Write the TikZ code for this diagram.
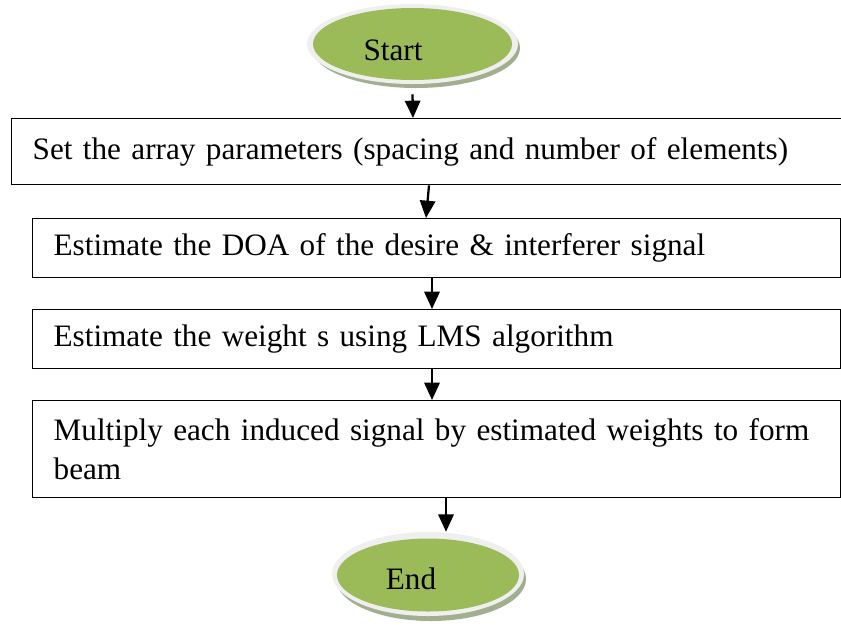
\documentclass[tikz,border=0pt]{standalone}
\usepackage{fontspec}
\setmainfont{Liberation Serif}
\usetikzlibrary{shapes.geometric,arrows.meta}
\definecolor{okgreen}{HTML}{9BBB59}
\definecolor{rimgray}{HTML}{EFEFEF}
\definecolor{shadowg}{HTML}{A2AF8E}
\begin{document}
\begin{tikzpicture}[x=0.75pt,y=-0.75pt,
  box/.style={draw=black, line width=1pt, rectangle, anchor=north west,
    inner xsep=15.75pt, inner ysep=0pt, align=left,
    font=\fontsize{23.4}{29.25}\selectfont},
  arr/.style={line width=1.7pt, -{Triangle[width=11.5pt,length=13pt]}},
  lbl/.style={font=\fontsize{23.4}{29}\selectfont, inner sep=0pt},
  ell/.style={ellipse, inner sep=0pt}]
\useasboundingbox (0,0) rectangle (841,626);

% Start ellipse
\node[ell, fill=shadowg, minimum width=208*0.75pt, minimum height=80*0.75pt] (startshadow) at (416,48) {};
\node[ell, fill=rimgray, minimum width=211*0.75pt, minimum height=80*0.75pt] (start) at (412.5,44) {};
\node[ell, fill=okgreen, minimum width=199*0.75pt, minimum height=72*0.75pt] (startin) at (412.5,44) {};
\node[lbl] (starttxt) at (393,50) {Start};

% Boxes
\node[box, text width=807*0.75pt, minimum height=66*0.75pt] (b1) at (11,118)
  {Set the array parameters (spacing and number of elements)};
\node[box, text width=766*0.75pt, minimum height=59*0.75pt] (b2) at (32,218)
  {Estimate the DOA of the desire \& interferer signal};
\node[box, text width=766*0.75pt, minimum height=59*0.75pt] (b3) at (32,309)
  {Estimate the weight s using LMS algorithm};
\node[box, text width=766*0.75pt, minimum height=97*0.75pt] (b4) at (32,400)
  {\mbox{Multiply each induced signal by estimated weights to form}\\beam};

% End ellipse
\node[ell, fill=shadowg, minimum width=190*0.75pt, minimum height=84*0.75pt] (endshadow) at (431,579) {};
\node[ell, fill=rimgray, minimum width=192*0.75pt, minimum height=84*0.75pt] (end) at (428,574) {};
\node[ell, fill=okgreen, minimum width=182*0.75pt, minimum height=73*0.75pt] (endin) at (428,575) {};
\node[lbl] (endtxt) at (411,579) {End};

% Connectors
\draw[arr] ([yshift=-7.5pt]start.south) -- ([xshift=301.5pt]b1.north west);
\draw[arr] ([xshift=313.5pt]b1.south west) -- ([xshift=295.5pt]b2.north west);
\draw[arr] ([xshift=300pt]b2.south west) -- ([xshift=300pt]b3.north west);
\draw[arr] ([xshift=300pt]b3.south west) -- ([xshift=300pt]b4.north west);
\draw[arr] ([xshift=310.5pt]b4.south west) -- ([xshift=13.5pt]end.north);
\end{tikzpicture}
\end{document}
